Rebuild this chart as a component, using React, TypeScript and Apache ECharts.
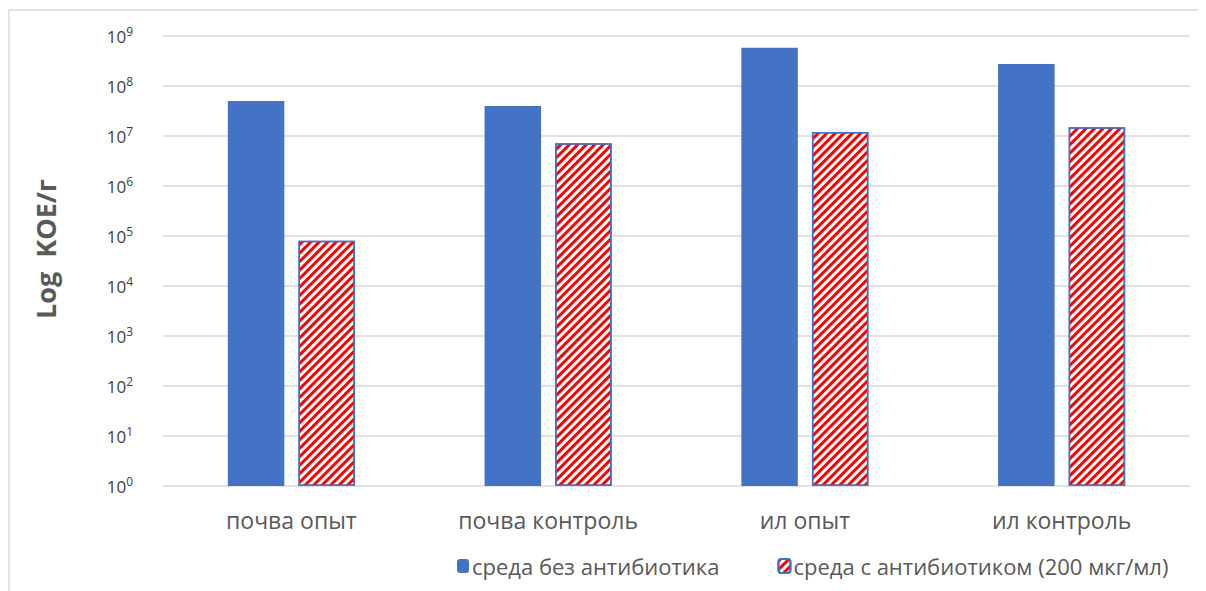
import React, { useEffect, useRef } from "react";
import * as echarts from "echarts";

const categories = ["почва опыт", "почва контроль", "ил опыт", "ил контроль"];
const seriesNames = ["среда без антибиотика", "среда с антибиотиком (200 мкг/мл)"];
const withoutAntibiotic = [5.0e7, 4.0e7, 5.8e8, 2.75e8];
const withAntibiotic = [8.0e4, 7.2e6, 1.2e7, 1.5e7];
const yTitle = "Log\u00a0\u00a0KOE/г";

const FONT = "'Open Sans', 'Noto Sans', sans-serif";

export default function App() {
  const ref = useRef<HTMLDivElement>(null);
  useEffect(() => {
    if (!ref.current) return;
    const chart = echarts.init(ref.current, null, { renderer: "svg" });
    const decal = {
      symbol: "rect",
      color: "#ff0000",
      backgroundColor: "#ffffff",
      dashArrayX: [1, 0],
      dashArrayY: [2.5, 2.5],
      rotation: -Math.PI / 4,
      symbolSize: 1,
    };
    chart.setOption({
      animation: false,
      backgroundColor: "#ffffff",
      textStyle: { fontFamily: FONT },
      graphic: [
        { type: "line", shape: { x1: 1, y1: 2, x2: 1198, y2: 2 }, style: { stroke: "#d9d9d9", lineWidth: 1.5 } },
        { type: "line", shape: { x1: 1, y1: 2, x2: 1, y2: 583 }, style: { stroke: "#d9d9d9", lineWidth: 1.5 } },
      ],
      grid: { left: 155, right: 16, top: 28, bottom: 105 },
      legend: {
        data: seriesNames,
        left: 444,
        top: 542,
        itemWidth: 12,
        itemHeight: 14,
        itemGap: 58,
        textStyle: { fontSize: 22, color: "#595959", fontFamily: FONT, padding: [0, 0, 0, -2] },
      },
      xAxis: {
        type: "category",
        data: categories,
        axisTick: { show: false },
        axisLine: { show: false },
        axisLabel: { fontSize: 23, color: "#595959", margin: 22, fontFamily: FONT },
      },
      yAxis: {
        type: "log",
        logBase: 10,
        min: 1,
        max: 1e9,
        interval: 1,
        name: yTitle,
        nameLocation: "middle",
        nameGap: 104,
        nameRotate: 90,
        nameTextStyle: {
          fontSize: 27,
          fontWeight: "bold",
          color: "#595959",
          fontFamily: FONT,
          padding: [0, 0, 0, 24],
        },
        axisLine: { show: false },
        axisTick: { show: false },
        splitLine: { lineStyle: { color: "#d9d9d9", width: 1.5 } },
        axisLabel: {
          margin: 30,
          formatter: (v: number) => `{b|10}{s|${Math.round(Math.log10(v))}}`,
          rich: {
            b: { fontSize: 17, color: "#404040", fontFamily: FONT },
            s: { fontSize: 12, color: "#404040", fontFamily: FONT, verticalAlign: "top", padding: [0, 0, 9, 0] },
          },
        },
      },
      series: [
        {
          name: seriesNames[0],
          type: "bar",
          data: withoutAntibiotic,
          barWidth: "22%",
          barGap: "25%",
          itemStyle: { color: "#4472C4" },
        },
        {
          name: seriesNames[1],
          type: "bar",
          data: withAntibiotic,
          barWidth: "22%",
          itemStyle: { color: "#ffffff", borderColor: "#4472C4", borderWidth: 1.5, decal },
        },
      ],
    });
    return () => chart.dispose();
  }, []);
  return <div ref={ref} style={{ width: 1198, height: 583 }} />;
}
